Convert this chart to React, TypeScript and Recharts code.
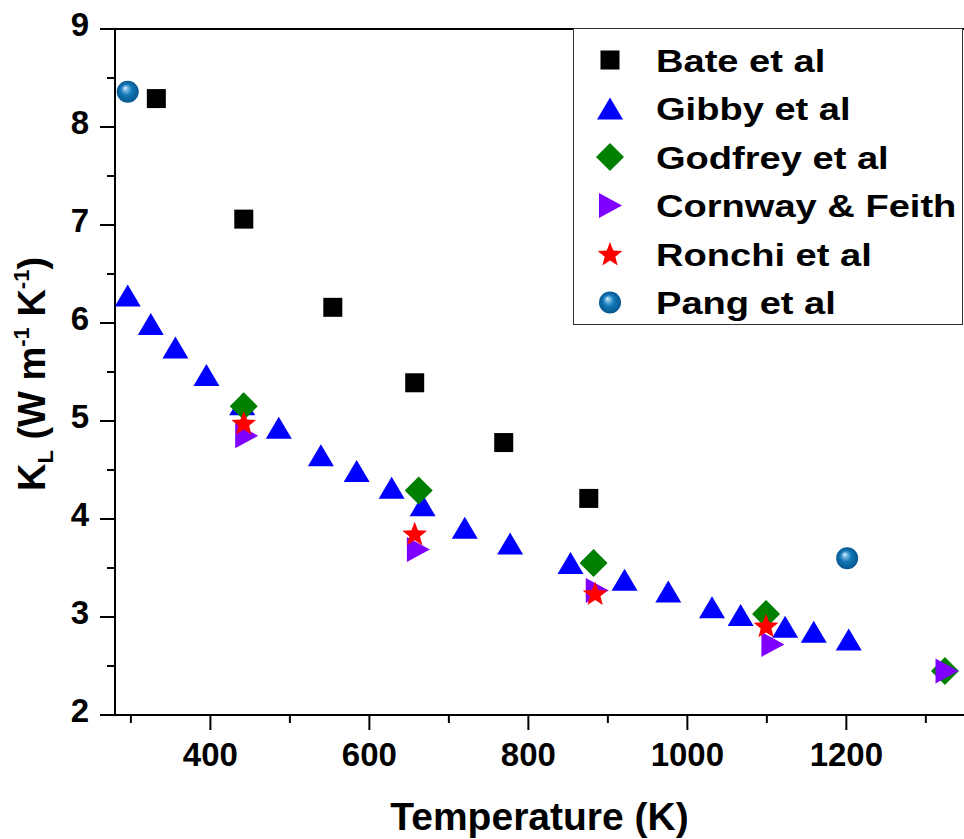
import React from 'react';
import { ScatterChart, Scatter, XAxis, YAxis, ReferenceLine } from 'recharts';

// temperatures (K) and lattice thermal conductivity (W m-1 K-1) per data set
const bateT = [332, 442, 554, 657, 769, 876];
const bateK = [8.29, 7.06, 6.16, 5.39, 4.78, 4.21];

const gibbyT = [296, 325, 356, 395, 440, 486, 539, 584, 628, 667, 720, 777, 853, 921, 976, 1031, 1067, 1123, 1159, 1203];
const gibbyK = [6.28, 5.99, 5.75, 5.47, 5.17, 4.93, 4.65, 4.49, 4.32, 4.14, 3.91, 3.75, 3.55, 3.38, 3.26, 3.1, 3.02, 2.9, 2.85, 2.77];

const godfreyT = [442, 662, 882, 1099, 1324];
const godfreyK = [5.15, 4.29, 3.55, 3.03, 2.45];

const cornwayT = [445, 661, 886, 1107, 1326];
const cornwayK = [4.85, 3.69, 3.27, 2.72, 2.45];

const ronchiT = [442, 657, 884, 1099];
const ronchiK = [4.98, 3.85, 3.24, 2.91];

const pangT = [296, 1201];
const pangK = [8.36, 3.6];

const xTicks = [300, 400, 500, 600, 700, 800, 900, 1000, 1100, 1200, 1300];
const xTickLabels = [400, 600, 800, 1000, 1200];
const yTicks = [2, 2.5, 3, 3.5, 4, 4.5, 5, 5.5, 6, 6.5, 7, 7.5, 8, 8.5, 9];

const seriesNames = ['Bate et al', 'Gibby et al', 'Godfrey et al', 'Cornway & Feith', 'Ronchi et al', 'Pang et al'];

const toPoints = (t: number[], k: number[]) => t.map((x, i) => ({ x, y: k[i] }));

const FONT = '"Liberation Sans", Arial, Helvetica, sans-serif';

const Square = ({ cx, cy }: any) => <rect x={cx - 9.5} y={cy - 9.5} width={19} height={19} fill="#000" />;

const UpTriangle = ({ cx, cy }: any) => (
  <polygon points={`${cx},${cy - 11} ${cx + 13},${cy + 11} ${cx - 13},${cy + 11}`} fill="#0000ff" />
);

const Diamond = ({ cx, cy }: any) => (
  <polygon points={`${cx},${cy - 14} ${cx + 14},${cy} ${cx},${cy + 14} ${cx - 14},${cy}`} fill="#008000" />
);

const RightTriangle = ({ cx, cy }: any) => (
  <polygon points={`${cx - 11},${cy - 12.5} ${cx + 12},${cy} ${cx - 11},${cy + 12.5}`} fill="#8000ff" />
);

const Star = ({ cx, cy }: any) => {
  const pts: string[] = [];
  for (let i = 0; i < 10; i++) {
    const r = i % 2 === 0 ? 13 : 5.6;
    const a = -Math.PI / 2 + (i * Math.PI) / 5;
    pts.push(`${cx + r * Math.cos(a)},${cy + 1 + r * Math.sin(a)}`);
  }
  return <polygon points={pts.join(' ')} fill="#ff0000" />;
};

const Sphere = ({ cx, cy }: any) => <circle cx={cx} cy={cy} r={11} fill="url(#sphereGrad)" />;

const shapes = [Square, UpTriangle, Diamond, RightTriangle, Star, Sphere];

const XTick = ({ x, y, payload }: any) => {
  const major = xTickLabels.includes(payload.value);
  return (
    <g>
      <line x1={x} y1={y} x2={x} y2={y + (major ? 15 : 8)} stroke="#000" strokeWidth={2} />
      {major && (
        <text x={x} y={y + 51} textAnchor="middle" fontFamily={FONT} fontWeight="bold" fontSize={33} fill="#000">
          {payload.value}
        </text>
      )}
    </g>
  );
};

const YTick = ({ x, y, payload }: any) => {
  const major = Number.isInteger(payload.value);
  return (
    <g>
      <line x1={x} y1={y} x2={x - (major ? 15 : 8)} y2={y} stroke="#000" strokeWidth={2} />
      {major && (
        <text x={x - 26} y={y + 7} textAnchor="end" fontFamily={FONT} fontWeight="bold" fontSize={33} fill="#000">
          {payload.value}
        </text>
      )}
    </g>
  );
};

const XTitle = ({ viewBox }: any) => (
  <text
    x={viewBox.x + viewBox.width / 2}
    y={viewBox.y + 115}
    textAnchor="middle"
    fontFamily={FONT}
    fontWeight="bold"
    fontSize={39}
    fill="#000"
  >
    Temperature (K)
  </text>
);

const YTitle = ({ viewBox }: any) => {
  const x = viewBox.x + 45;
  const y = viewBox.y + viewBox.height / 2 + 2;
  return (
    <text
      x={x}
      y={y}
      transform={`rotate(-90, ${x}, ${y})`}
      textAnchor="middle"
      fontFamily={FONT}
      fontWeight="bold"
      fontSize={38}
      fill="#000"
    >
      K
      <tspan fontSize={22} dy={8}>L</tspan>
      <tspan dy={-8}> (W m</tspan>
      <tspan fontSize={22} dy={-16}>-1</tspan>
      <tspan dy={16}> K</tspan>
      <tspan fontSize={22} dy={-16}>-1</tspan>
      <tspan dy={16}>)</tspan>
    </text>
  );
};

const LegendBox = () => (
  <div
    style={{
      position: 'absolute',
      left: 573,
      top: 28,
      width: 390,
      height: 297,
      boxSizing: 'border-box',
      border: '1.5px solid #333',
      background: '#fff',
    }}
  >
    <svg width={390} height={297} style={{ position: 'absolute', left: -1.5, top: -1.5 }}>
      {seriesNames.map((name, i) => {
        const Shape = shapes[i];
        const cy = 32 + i * 48.5;
        return (
          <g key={name}>
            <Shape cx={37} cy={cy} />
            <g transform={`translate(83, ${cy + 11.5}) scale(1.19, 1)`}>
              <text x={0} y={0} fontFamily={FONT} fontWeight="bold" fontSize={32} fill="#000">
                {name}
              </text>
            </g>
          </g>
        );
      })}
    </svg>
  </div>
);

const series = [
  toPoints(bateT, bateK),
  toPoints(gibbyT, gibbyK),
  toPoints(godfreyT, godfreyK),
  toPoints(cornwayT, cornwayK),
  toPoints(ronchiT, ronchiK),
  toPoints(pangT, pangK),
];

const App: React.FC = () => {
  return (
    <div style={{ position: 'absolute', left: 0, top: 0, width: 964, height: 839, background: '#fff' }}>
      <svg width={0} height={0} style={{ position: 'absolute' }}>
        <defs>
          <radialGradient id="sphereGrad" cx="50%" cy="50%" r="50%" fx="38%" fy="32%">
            <stop offset="0%" stopColor="#f2f9ff" />
            <stop offset="18%" stopColor="#7fbde6" />
            <stop offset="50%" stopColor="#1478b8" />
            <stop offset="100%" stopColor="#05568e" />
          </radialGradient>
        </defs>
      </svg>
      <ScatterChart width={964} height={839} margin={{ top: 29, right: 0, bottom: 0, left: 0 }}>
        <XAxis
          type="number"
          dataKey="x"
          domain={[280, 1348]}
          allowDataOverflow
          ticks={xTicks}
          interval={0}
          height={124}
          tickSize={0}
          tickMargin={0}
          tickLine={false}
          tick={<XTick />}
          axisLine={{ stroke: '#000', strokeWidth: 2 }}
          label={<XTitle />}
        />
        <YAxis
          type="number"
          dataKey="y"
          domain={[2, 9]}
          allowDataOverflow
          ticks={yTicks}
          interval={0}
          width={115}
          tickSize={0}
          tickMargin={0}
          tickLine={false}
          tick={<YTick />}
          axisLine={{ stroke: '#000', strokeWidth: 2 }}
          label={<YTitle />}
        />
        <ReferenceLine y={9} stroke="#000" strokeWidth={2} />
        {series.map((data, i) => {
          const Shape = shapes[i];
          return (
            <Scatter
              key={seriesNames[i]}
              name={seriesNames[i]}
              data={data}
              isAnimationActive={false}
              shape={(p: any) => <Shape cx={p.cx} cy={p.cy} />}
            />
          );
        })}
      </ScatterChart>
      <LegendBox />
    </div>
  );
};

export default App;
